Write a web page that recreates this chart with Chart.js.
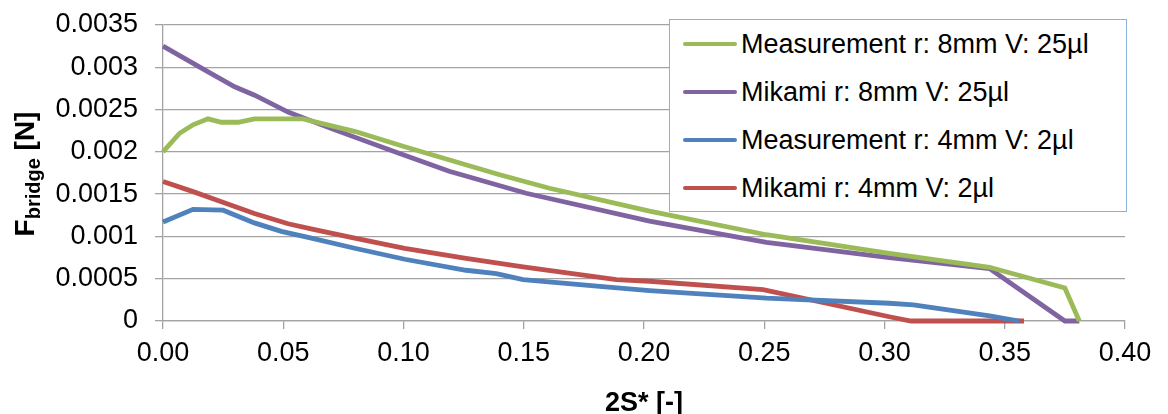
<!DOCTYPE html>
<html>
<head>
<meta charset="utf-8">
<script src="https://cdn.jsdelivr.net/npm/chart.js@4/dist/chart.umd.min.js"></script>
<style>
  body { margin: 0; background: #fff; }
  #wrap { position: relative; width: 1168px; height: 414px; }
  #legend {
    position: absolute; left: 669px; top: 19px; width: 456px; height: 191px;
    border: 1px solid #8DB0DC; background: #fff;
    font-family: "Liberation Sans", Arial, sans-serif; font-size: 27px; color: #000;
  }
  .row { display: flex; align-items: center; height: 48px; }
  .swatch { width: 54px; height: 4px; margin-left: 13px; margin-right: 4px; border-radius: 2px; }
</style>
</head>
<body>
<div id="wrap">
  <canvas id="chart" width="1168" height="414"></canvas>
  <div id="legend"></div>
</div>
<script>
const seriesLabels = [
    'Measurement r: 8mm V: 25µl',
    'Mikami r: 8mm V: 25µl',
    'Measurement r: 4mm V: 2µl',
    'Mikami r: 4mm V: 2µl'
];
const seriesColors = ['#9BBB59', '#8064A2', '#4F81BD', '#C0504D'];

// Measurement r: 8mm V: 25µl
const meas8X = [0, 0.0069, 0.0125, 0.0187, 0.0243, 0.0312, 0.0381, 0.0582, 0.08, 0.1005, 0.14, 0.1607, 0.2023, 0.2509, 0.302, 0.3437, 0.375, 0.381];
const meas8Y = [0.0020, 0.00222, 0.00232, 0.00239, 0.00235, 0.00235, 0.00239, 0.00239, 0.00224, 0.00206, 0.00173, 0.00157, 0.00130, 0.00102, 0.00080, 0.000635, 0.00039, 0];

// Mikami r: 8mm V: 25µl
const mik8X = [0, 0.0173, 0.0298, 0.0381, 0.052, 0.0714, 0.0984, 0.119, 0.151, 0.2023, 0.2509, 0.302, 0.3437, 0.375, 0.381];
const mik8Y = [0.00325, 0.00297, 0.00277, 0.00267, 0.00247, 0.00226, 0.00198, 0.00177, 0.00151, 0.00118, 0.00093, 0.00075, 0.00062, 0, 0];

// Measurement r: 4mm V: 2µl
const meas4X = [0, 0.0125, 0.025, 0.038, 0.0492, 0.0617, 0.0797, 0.1005, 0.126, 0.1386, 0.1497, 0.1816, 0.2023, 0.2509, 0.302, 0.312, 0.3437, 0.356];
const meas4Y = [0.00117, 0.00132, 0.00131, 0.00116, 0.00106, 0.00098, 0.00086, 0.00073, 0.00060, 0.00056, 0.00049, 0.00041, 0.00036, 0.00027, 0.00021, 0.00019, 0.00006, 0];

// Mikami r: 4mm V: 2µl
const mik4X = [0, 0.0125, 0.0243, 0.038, 0.052, 0.063, 0.0797, 0.1005, 0.126, 0.1497, 0.1885, 0.2023, 0.2495, 0.302, 0.311, 0.358];
const mik4Y = [0.00165, 0.00153, 0.00141, 0.00127, 0.00115, 0.00108, 0.00098, 0.00086, 0.00074, 0.00064, 0.00049, 0.00047, 0.00037, 0.00005, 0, 0];

const xTitle = '2S* [-]';
const yTitleMain = 'F';
const yTitleSub = 'bridge';
const yTitleUnit = ' [N]';

const FONT = '"Liberation Sans", Arial, sans-serif';
const GRID = '#A3A3A3';

function toPoints(xs, ys) {
    return xs.map((x, i) => ({ x: x, y: ys[i] }));
}

const seriesData = [
    toPoints(meas8X, meas8Y),
    toPoints(mik8X, mik8Y),
    toPoints(meas4X, meas4Y),
    toPoints(mik4X, mik4Y)
];

// legend as html
const legendEl = document.getElementById('legend');
seriesLabels.forEach((label, i) => {
    const row = document.createElement('div');
    row.className = 'row';
    const sw = document.createElement('span');
    sw.className = 'swatch';
    sw.style.background = seriesColors[i];
    const txt = document.createElement('span');
    txt.textContent = label;
    row.appendChild(sw);
    row.appendChild(txt);
    legendEl.appendChild(row);
});

const axisTitles = {
    id: 'axisTitles',
    afterDraw(chart) {
        const ctx = chart.ctx;
        const area = chart.chartArea;
        ctx.save();
        ctx.fillStyle = '#000';
        ctx.textBaseline = 'alphabetic';

        ctx.font = 'bold 27px ' + FONT;
        ctx.textAlign = 'center';
        ctx.fillText(xTitle, (area.left + area.right) / 2, 411);

        // rotated y title with subscript
        const big = 'bold 28px ' + FONT;
        const small = 'bold 20px ' + FONT;
        ctx.font = big;
        const w1 = ctx.measureText(yTitleMain).width;
        const w3 = ctx.measureText(yTitleUnit).width;
        ctx.font = small;
        const w2 = ctx.measureText(yTitleSub).width;
        const total = w1 + w2 + w3;
        ctx.translate(34, 174);
        ctx.rotate(-Math.PI / 2);
        ctx.textAlign = 'left';
        let x = -total / 2;
        ctx.font = big;
        ctx.fillText(yTitleMain, x, 0);
        x += w1;
        ctx.font = small;
        ctx.fillText(yTitleSub, x, 6);
        x += w2;
        ctx.font = big;
        ctx.fillText(yTitleUnit, x, 0);
        ctx.restore();
    }
};

const ctx = document.getElementById('chart').getContext('2d');
new Chart(ctx, {
    type: 'line',
    data: {
        datasets: seriesData.map((pts, i) => ({
            label: seriesLabels[i],
            data: pts,
            borderColor: seriesColors[i],
            backgroundColor: seriesColors[i],
            borderWidth: 4.8,
            pointRadius: 0,
            fill: false,
            tension: 0,
            clip: 10
        }))
    },
    options: {
        responsive: false,
        animation: false,
        devicePixelRatio: 1,
        layout: { padding: { top: 25, right: 43, bottom: 0, left: 0 } },
        plugins: {
            legend: { display: false },
            tooltip: { enabled: false }
        },
        scales: {
            x: {
                type: 'linear',
                min: 0,
                max: 0.4,
                afterFit: s => { s.height = 93; s.paddingLeft = 0; s.paddingRight = 0; },
                ticks: {
                    stepSize: 0.05,
                    color: '#000',
                    font: { family: FONT, size: 27 },
                    padding: 8,
                    maxRotation: 0,
                    callback: v => v.toFixed(2)
                },
                grid: { drawOnChartArea: false, tickLength: 8, color: GRID, lineWidth: 1.3 },
                border: { color: GRID, width: 1.3 }
            },
            y: {
                min: 0,
                max: 0.0035,
                afterFit: s => { s.width = 163; s.paddingTop = 0; s.paddingBottom = 0; },
                ticks: {
                    stepSize: 0.0005,
                    color: '#000',
                    font: { family: FONT, size: 27 },
                    padding: 17,
                    callback: v => String(+v.toFixed(4))
                },
                grid: { tickLength: 8, color: GRID, lineWidth: 1.3 },
                border: { color: GRID, width: 1.3 }
            }
        }
    },
    plugins: [axisTitles]
});
</script>
</body>
</html>
